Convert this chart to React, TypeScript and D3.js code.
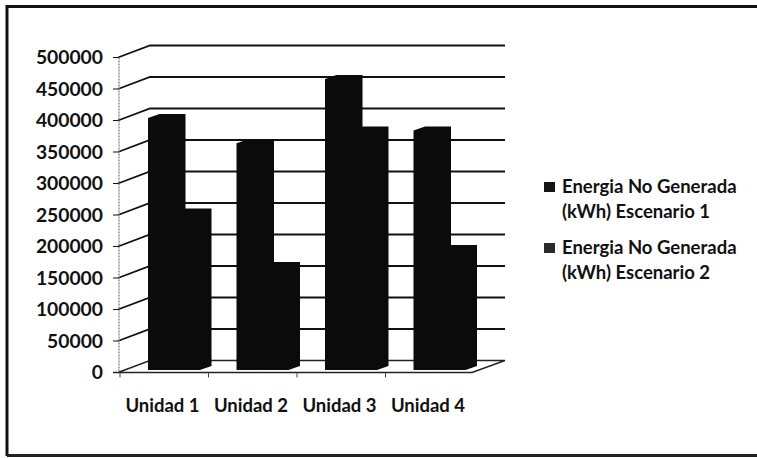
import React from "react";
import * as d3 from "d3";

const categories = ["Unidad 1", "Unidad 2", "Unidad 3", "Unidad 4"];
const scenario1 = [400000, 360000, 462000, 380000];
const scenario2 = [250000, 165000, 380000, 192000];
const yTicks = [0, 50000, 100000, 150000, 200000, 250000, 300000, 350000, 400000, 450000, 500000];
const legendLabels = [
  ["Energia No Generada", "(kWh) Escenario 1"],
  ["Energia No Generada", "(kWh) Escenario 2"],
];

const FONT = "Lato, Carlito, sans-serif";
const INK = "#0b0b0b";
const depthX = 32, depthY = 12;
const barDX = 11.5, barDY = 4;

export default function App() {
  const y = d3.scaleLinear().domain([0, 500000]).range([372.5, 57.5]);
  const barY = d3.scaleLinear().domain([0, 500000]).range([370, 55]);
  const x = d3.scaleBand<string>().domain(categories).range([118, 472]);
  const faceW = 26;
  const barOffset = 30;

  const bar = (cat: string, v: number, idx: number) => {
    const x0 = (x(cat) as number) + barOffset + idx * faceW;
    const x1 = x0 + faceW;
    const yt = barY(v);
    const yb = barY(0);
    const pts = [
      [x0, yb], [x0, yt], [x0 + barDX, yt - barDY], [x1 + barDX, yt - barDY],
      [x1 + barDX, yb - barDY], [x1, yb],
    ];
    return <polygon key={cat + idx} points={pts.map((p) => p.join(",")).join(" ")} fill={INK} />;
  };

  return (
    <svg width={757} height={458} style={{ position: "absolute", left: 0, top: 0, background: "#fff" }}>
      {/* outer frame */}
      <path d="M7,456 L7,6.5 L757,6.5" fill="none" stroke="#111" strokeWidth={3} />
      <line x1={7} x2={757} y1={455.5} y2={455.5} stroke="#222" strokeWidth={3} />

      {/* grid */}
      {yTicks.map((t) => {
        const yy = y(t);
        return (
          <g key={t} stroke="#111" fill="none">
            {t > 0 && <polyline points={`${118},${yy} ${118 + depthX},${yy - depthY} ${505},${yy - depthY}`} strokeWidth={1.8} />}
            <line x1={113} x2={118} y1={yy} y2={yy} strokeWidth={1} />
          </g>
        );
      })}
      {/* floor */}
      <polyline points={`113,${y(0)} 472,${y(0)} 505,${y(0) - depthY} 150,${y(0) - depthY} 118,${y(0)}`} fill="none" stroke="#222" strokeWidth={1.4} />
      {/* axis */}
      <line x1={119} x2={119} y1={y(500000)} y2={y(0)} stroke="#777" strokeWidth={1.2} strokeDasharray="2 1" />
      {categories.map((c) => (
        <line key={c} x1={(x(c) as number) + 2} x2={(x(c) as number) + 2} y1={y(0)} y2={y(0) + 5} stroke="#444" strokeWidth={1} />
      ))}

      {/* bars */}
      {categories.map((c, i) => (
        <g key={c}>
          {bar(c, scenario1[i], 0)}
          {bar(c, scenario2[i], 1)}
        </g>
      ))}

      {/* y labels */}
      {yTicks.map((t) => (
        <text key={t} x={103} y={y(t)} dy="0.36em" textAnchor="end" fontFamily={FONT} fontSize={19.3} fontWeight={700} fill="#111">
          {t}
        </text>
      ))}
      {/* x labels */}
      {categories.map((c) => (
        <text key={c} x={(x(c) as number) + 44.5} y={412} textAnchor="middle" fontFamily={FONT} fontSize={18.5} fontWeight={700} fill="#111">
          {c}
        </text>
      ))}
      {/* legend */}
      {legendLabels.map((lines, i) => {
        const top = i === 0 ? 182 : 243;
        return (
          <g key={i}>
            <rect x={544} y={top} width={11} height={10} fill={i === 0 ? "#151515" : "#2a2a2a"} />
            {lines.map((l, j) => (
              <text key={j} x={562} y={top + 11 + j * 25} fontFamily={FONT} fontSize={18.5} fontWeight={700} fill="#111">
                {l}
              </text>
            ))}
          </g>
        );
      })}
    </svg>
  );
}
